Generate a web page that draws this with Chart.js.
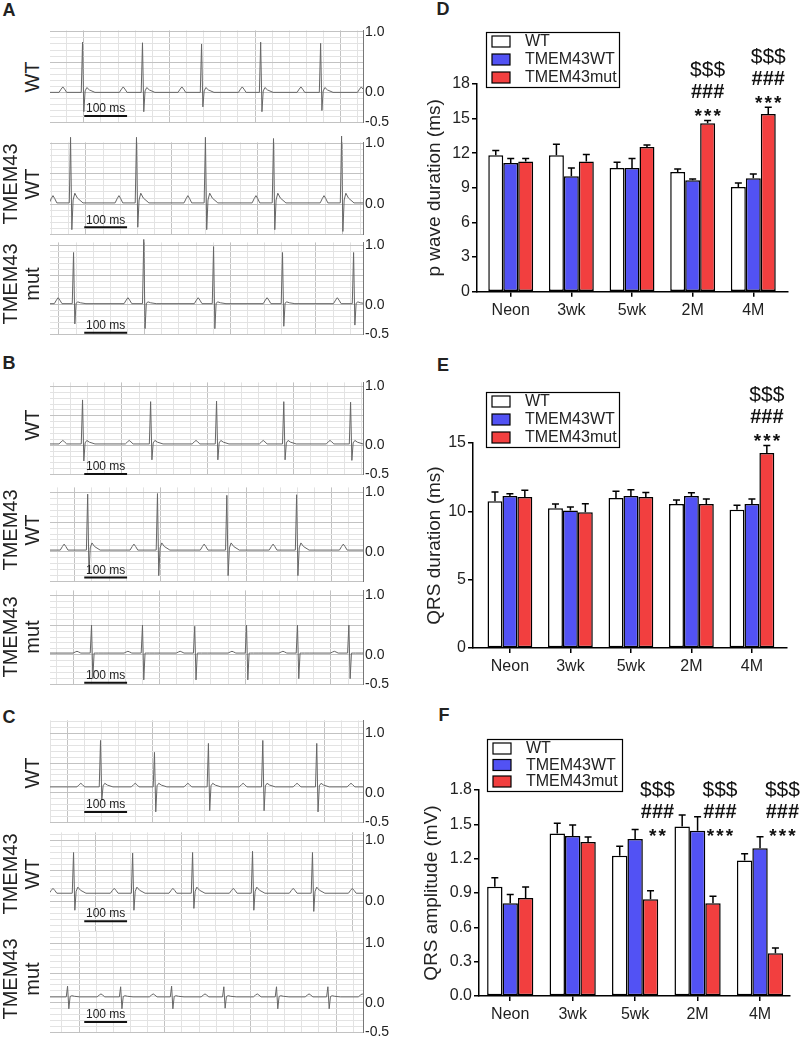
<!DOCTYPE html>
<html><head><meta charset="utf-8">
<script src="https://cdn.jsdelivr.net/npm/chart.js@4.4.1/dist/chart.umd.min.js"></script>
<style>
body{margin:0;background:#fff;}
#page{position:relative;width:800px;height:1038px;overflow:hidden;background:#fff;font-family:"Liberation Sans",Arial,Helvetica,sans-serif;color:#222;}
#page canvas{position:absolute;}
.rl{position:absolute;white-space:nowrap;font-size:20px;line-height:22px;text-align:center;transform:translate(-50%,-50%) rotate(-90deg);}
.let{position:absolute;font-weight:bold;font-size:18px;line-height:1;transform:translate(-50%,-50%);}
</style></head><body><div id="page"></div>
<script>
// ---------------- DATA: bar charts ----------------
const categories = ['Neon', '3wk', '5wk', '2M', '4M'];
const seriesNames = ['WT', 'TMEM43WT', 'TMEM43mut'];

// D: p wave duration (ms)
const pWaveWT      = [11.83, 11.83, 10.73, 10.38, 9.08];
const pWaveWTsem   = [0.40, 0.95, 0.49, 0.26, 0.35];
const pWaveTWT     = [11.16, 10.00, 10.73, 9.66, 9.83];
const pWaveTWTsem  = [0.38, 0.73, 0.81, 0.11, 0.37];
const pWaveMut     = [11.28, 11.28, 12.55, 14.60, 15.41];
const pWaveMutsem  = [0.26, 0.60, 0.17, 0.23, 0.58];
const pWaveTicks   = [0, 3, 6, 9, 12, 15, 18];
const pWaveStars   = ['', '', '', '***', '***'];
const pWaveHash    = ['', '', '', '###', '###'];
const pWaveDollar  = ['', '', '', '$$$', '$$$'];

// E: QRS duration (ms)
const qrsDurWT     = [10.73, 10.22, 10.98, 10.54, 10.12];
const qrsDurWTsem  = [0.68, 0.32, 0.49, 0.29, 0.32];
const qrsDurTWT    = [11.12, 10.07, 11.12, 11.12, 10.54];
const qrsDurTWTsem = [0.17, 0.25, 0.46, 0.24, 0.37];
const qrsDurMut    = [11.05, 9.93, 11.05, 10.54, 14.27];
const qrsDurMutsem = [0.49, 0.63, 0.32, 0.37, 0.54];
const qrsDurTicks  = [0, 5, 10, 15];
const qrsDurStars  = ['', '', '', '', '***'];
const qrsDurHash   = ['', '', '', '', '###'];
const qrsDurDollar = ['', '', '', '', '$$$'];

// F: QRS amplitude (mV)
const qrsAmpWT     = [0.955, 1.419, 1.226, 1.480, 1.183];
const qrsAmpWTsem  = [0.079, 0.090, 0.082, 0.102, 0.061];
const qrsAmpTWT    = [0.810, 1.398, 1.372, 1.445, 1.290];
const qrsAmpTWTsem = [0.076, 0.096, 0.082, 0.122, 0.102];
const qrsAmpMut    = [0.856, 1.346, 0.845, 0.810, 0.373];
const qrsAmpMutsem = [0.097, 0.043, 0.075, 0.061, 0.046];
const qrsAmpTicks  = [0, 0.3, 0.6, 0.9, 1.2, 1.5, 1.8];
const qrsAmpStars  = ['', '', '**', '***', '***'];
const qrsAmpHash   = ['', '', '###', '###', '###'];
const qrsAmpDollar = ['', '', '$$$', '$$$', '$$$'];

// ---------------- DATA: ECG traces (ms, mV) ----------------
const ecgTimeMax_ms = 731;
const ecgScaleBar_ms = [80, 100];            // start, length
const ecgAxisLabels = ['1.0', '0.0', '-0.5'];

const a1R_ms = [77, 217, 355, 493, 633];
const a1R_mV = [0.83, 0.82, 0.80, 0.83, 0.81];
const a1S_mV = [-0.32, -0.32, -0.24, -0.32, -0.30];
const a1P_ms = [30, 171, 308, 449, 586, 727];

const a2R_ms = [49, 203, 364, 523, 682];
const a2R_mV = [1.10, 1.10, 1.10, 1.08, 1.12];
const a2S_mV = [-0.42, -0.38, -0.42, -0.42, -0.45];
const a2P_ms = [7, 161, 322, 481, 640];

const a3R_ms = [56, 220, 383, 544, 710];
const a3R_mV = [0.88, 1.10, 0.98, 0.88, 0.88];
const a3S_mV = [-0.32, -0.40, -0.40, -0.36, -0.34];
const a3P_ms = [19, 182, 346, 507, 671];

const b1R_ms = [77, 236, 390, 547, 703];
const b1R_mV = [0.77, 0.74, 0.75, 0.74, 0.73];
const b1S_mV = [-0.27, -0.25, -0.25, -0.25, -0.26];
const b1P_ms = [30, 185, 341, 498, 654];

const b2R_ms = [89, 252, 414, 577];
const b2R_mV = [0.97, 0.98, 0.95, 0.96];
const b2S_mV = [-0.37, -0.40, -0.40, -0.40];
const b2P_ms = [33, 196, 360, 521, 685];

const b3R_ms = [98, 217, 339, 460, 579, 699];
const b3R_mV = [0.50, 0.50, 0.48, 0.50, 0.50, 0.50];
const b3S_mV = [-0.40, -0.42, -0.42, -0.42, -0.40, -0.40];
const b3P_ms = [63, 182, 304, 425, 544, 664];

const c1R_ms = [119, 245, 371, 498, 624];
const c1R_mV = [0.88, 0.68, 0.83, 0.88, 0.83];
const c1S_mV = [-0.12, -0.32, -0.30, -0.30, -0.32];
const c1P_ms = [72, 199, 322, 451, 577, 703];

const c2R_ms = [56, 194, 334, 474, 614];
const c2R_mV = [0.80, 0.79, 0.80, 0.82, 0.80];
const c2S_mV = [-0.15, -0.15, -0.12, -0.15, -0.17];
const c2P_ms = [7, 150, 287, 428, 568, 706];

const c3R_ms = [42, 166, 285, 407, 530, 650];
const c3R_mV = [0.28, 0.27, 0.28, 0.27, 0.27, 0.27];
const c3S_mV = [-0.10, -0.10, -0.10, -0.09, -0.10, -0.10];
const c3P_ms = [119, 241, 362, 484, 605, 729];

// per trace (A1..C3): isoelectric level, P height, T height
const ecgBaseline_mV = [0.00, 0.02, 0.02, 0.02, 0.03, 0.03, 0.10, 0.13, 0.10];
const ecgPwave_mV    = [0.09, 0.12, 0.10, 0.06, 0.10, 0.03, 0.06, 0.08, 0.05];
const ecgTwave_mV    = [0.08, 0.16, 0.03, 0.06, 0.12, 0.00, 0.06, 0.10, 0.02];
const ecgRowNames    = ['WT', 'TMEM43\nWT', 'TMEM43\nmut'];

// ---------------- rendering ----------------
Chart.defaults.font.family = '"Liberation Sans", Arial, Helvetica, sans-serif';
Chart.defaults.color = '#222';
const page = document.getElementById('page');

function addCanvas(left, top, w, h) {
  const c = document.createElement('canvas');
  c.width = w; c.height = h;
  c.style.left = left + 'px'; c.style.top = top + 'px';
  c.style.width = w + 'px'; c.style.height = h + 'px';
  page.appendChild(c);
  return c;
}
function addDiv(cls, text, x, y) {
  const d = document.createElement('div');
  d.className = cls; d.style.left = x + 'px'; d.style.top = y + 'px';
  d.innerHTML = text.split('\n').join('<br>');
  page.appendChild(d);
}

// panel letters
[['A', 9, 10], ['B', 9, 363], ['C', 9, 717], ['D', 443, 9], ['E', 443, 365], ['F', 444, 715]]
  .forEach(l => addDiv('let', l[0], l[1], l[2]));

// beat template (ms offsets) used to draw each P wave and QRS-T complex
function buildTrace(rT, rA, sA, pT, base, pA, tA) {
  const ev = [];
  rT.forEach((t, i) => ev.push({ t, kind: 'R', i }));
  pT.forEach(t => ev.push({ t, kind: 'P' }));
  ev.sort((a, b) => a.t - b.t);
  const pts = [{ x: 0, y: base }];
  ev.forEach(e => {
    if (e.kind === 'P') {
      pts.push({ x: e.t - 9, y: base }, { x: e.t - 4, y: base + 0.6 * pA }, { x: e.t, y: base + pA },
               { x: e.t + 4, y: base + 0.6 * pA }, { x: e.t + 9, y: base });
    } else {
      pts.push({ x: e.t - 4, y: base }, { x: e.t - 1, y: rA[e.i] }, { x: e.t + 2, y: sA[e.i] },
               { x: e.t + 5, y: base + 0.3 * tA }, { x: e.t + 9, y: base + tA },
               { x: e.t + 15, y: base + 0.5 * tA }, { x: e.t + 28, y: base });
    }
  });
  pts.push({ x: ecgTimeMax_ms, y: base });
  return pts;
}

const ecgTraces = [
  [a1R_ms, a1R_mV, a1S_mV, a1P_ms], [a2R_ms, a2R_mV, a2S_mV, a2P_ms], [a3R_ms, a3R_mV, a3S_mV, a3P_ms],
  [b1R_ms, b1R_mV, b1S_mV, b1P_ms], [b2R_ms, b2R_mV, b2S_mV, b2P_ms], [b3R_ms, b3R_mV, b3S_mV, b3P_ms],
  [c1R_ms, c1R_mV, c1S_mV, c1P_ms], [c2R_ms, c2R_mV, c2S_mV, c2P_ms], [c3R_ms, c3R_mV, c3S_mV, c3P_ms]
];

// layout of the ECG strips (pixel geometry only)
const ecgLayout = [
  { y0: 92.5, k: 61, top: 30,  neg: true,  grid: 79,  bar: -0.39 },
  { y0: 204,  k: 61, top: 142, neg: false, grid: 84,  bar: -0.38 },
  { y0: 305,  k: 60, top: 242, neg: true,  grid: 21,  bar: -0.47 },
  { y0: 445,  k: 59, top: 382, neg: true,  grid: 168, bar: -0.49 },
  { y0: 552,  k: 60, top: 487, neg: false, grid: 58,  bar: -0.43 },
  { y0: 655,  k: 60, top: 590, neg: true,  grid: 56,  bar: -0.47 },
  { y0: 793,  k: 60, top: 720, neg: true,  grid: 40,  bar: -0.32 },
  { y0: 901,  k: 61, top: 832, neg: false, grid: 107, bar: -0.33 },
  { y0: 1003, k: 60, top: 930, neg: true,  grid: 68,  bar: -0.32 }
];

const ecgDecor = {
  id: 'ecgDecor',
  afterDatasetsDraw(chart, args, o) {
    const ctx = chart.ctx, xs = chart.scales.x, ys = chart.scales.y;
    const x0 = xs.getPixelForValue(ecgScaleBar_ms[0]);
    const x1 = xs.getPixelForValue(ecgScaleBar_ms[0] + ecgScaleBar_ms[1]);
    const yy = ys.getPixelForValue(o.bar);
    ctx.save();
    ctx.strokeStyle = '#111'; ctx.lineWidth = 2;
    ctx.beginPath(); ctx.moveTo(x0, yy); ctx.lineTo(x1, yy); ctx.stroke();
    ctx.fillStyle = '#222'; ctx.font = '12px "Liberation Sans", Arial, sans-serif';
    ctx.textAlign = 'center'; ctx.textBaseline = 'bottom';
    ctx.fillText(ecgScaleBar_ms[1] + ' ms', (x0 + x1) / 2, yy - 1);
    ctx.restore();
  }
};

ecgLayout.forEach((L, idx) => {
  const tr = ecgTraces[idx];
  const maxV = (L.y0 - L.top) / L.k;
  const areaH = L.y0 + 0.5 * L.k - L.top;
  const cv = addCanvas(50, L.top - 10, 350, Math.round(areaH + 20));
  const data = buildTrace(tr[0], tr[1], tr[2], tr[3], ecgBaseline_mV[idx], ecgPwave_mV[idx], ecgTwave_mV[idx]);
  new Chart(cv, {
    type: 'line',
    data: { datasets: [{ data, borderColor: '#666666', borderWidth: 1, pointRadius: 0, tension: 0,
      fill: false, clip: { left: 0, right: 0, top: 10, bottom: 10 } }] },
    options: {
      responsive: false, animation: false, events: [], parsing: false,
      layout: { padding: { top: 10, bottom: Math.round(areaH + 20) - 10 - areaH, left: 0, right: 0 } },
      plugins: { legend: { display: false }, tooltip: { enabled: false }, ecgDecor: { bar: L.bar } },
      scales: {
        x: {
          type: 'linear', min: 0, max: ecgTimeMax_ms,
          afterBuildTicks: s => {
            const t = [];
            for (let v = L.grid - 200; v <= ecgTimeMax_ms; v += 40) if (v >= 0) t.push({ value: v });
            s.ticks = t;
          },
          afterFit: s => { s.height = 0; },
          ticks: { display: false },
          grid: { drawTicks: false, lineWidth: 1,
            color: c => { const k = Math.round((c.tick.value - L.grid) / 40); return (((k % 5) + 5) % 5 === 0) ? '#c2c2c2' : '#e3e3e3'; } },
          border: { display: false }
        },
        y: {
          type: 'linear', position: 'right', min: -0.5, max: maxV,
          afterBuildTicks: s => {
            const t = [];
            for (let v = -5; v <= Math.floor(maxV * 10 + 1e-6); v++) t.push({ value: v / 10 });
            s.ticks = t;
          },
          afterFit: s => { s.width = 37; },
          ticks: { autoSkip: false, padding: 2, font: { size: 14 }, color: '#222',
            callback: v => { const r = Math.round(v * 10);
              if (r === 10) return ecgAxisLabels[0];
              if (r === 0) return ecgAxisLabels[1];
              if (r === -5 && L.neg) return ecgAxisLabels[2];
              return ''; } },
          grid: { drawTicks: false, lineWidth: 1,
            color: c => (Math.round(c.tick.value * 10) % 5 === 0) ? '#c2c2c2' : '#e3e3e3' },
          border: { display: true, color: '#777', width: 1 }
        }
      }
    },
    plugins: [ecgDecor]
  });
});

// row labels of the ECG strips
const rowCentres = [77, 184, 284, 425, 530, 637, 773, 874, 979];
rowCentres.forEach((y, i) => {
  const name = ecgRowNames[i % 3];
  addDiv('rl', name, name.indexOf('\n') >= 0 ? 21 : 32, y);
});

// ---------------- bar charts ----------------
const barColors = ['#ffffff', '#5252f4', '#f23f3f'];

const barDecor = {
  id: 'barDecor',
  afterDatasetsDraw(chart) {
    const ctx = chart.ctx, ys = chart.scales.y;
    ctx.save();
    ctx.strokeStyle = '#000'; ctx.lineWidth = 1.5;
    chart.data.datasets.forEach((ds, di) => {
      chart.getDatasetMeta(di).data.forEach((bar, i) => {
        const top = ys.getPixelForValue(ds.data[i].y + ds.sem[i]);
        ctx.beginPath();
        ctx.moveTo(bar.x, bar.y); ctx.lineTo(bar.x, top);
        ctx.moveTo(bar.x - 3.5, top); ctx.lineTo(bar.x + 3.5, top);
        ctx.stroke();
      });
    });
    ctx.restore();
  },
  afterDraw(chart, args, o) {
    const ctx = chart.ctx, ys = chart.scales.y;
    const fam = '"Liberation Sans", Arial, sans-serif';
    // legend
    const L = o.legend, gap = (L.h - 19) / 2;
    ctx.save();
    ctx.strokeStyle = '#000'; ctx.lineWidth = 1.2;
    ctx.fillStyle = '#fff'; ctx.fillRect(L.x, L.y, L.w, L.h);
    ctx.strokeRect(L.x + 0.5, L.y + 0.5, L.w, L.h);
    chart.data.datasets.forEach((ds, i) => {
      const cy = L.y + 9.5 + i * gap;
      ctx.fillStyle = ds.backgroundColor;
      ctx.fillRect(L.x + 6, cy - 5.5, 18, 11);
      ctx.lineWidth = 1.2; ctx.strokeRect(L.x + 6, cy - 5.5, 18, 11);
      ctx.fillStyle = '#222'; ctx.font = '16px ' + fam;
      ctx.textAlign = 'left'; ctx.textBaseline = 'middle';
      ctx.fillText(ds.label, L.x + 39, cy + 0.5);
    });
    // significance marks above the TMEM43mut bars
    const mut = chart.data.datasets[2], meta = chart.getDatasetMeta(2);
    o.stars.forEach((s, i) => {
      if (!s) return;
      const x = meta.data[i].x + o.dx;
      const yS = o.level != null ? ys.getPixelForValue(o.level)
                                 : ys.getPixelForValue(mut.data[i].y + mut.sem[i]) - 8;
      ctx.fillStyle = '#111'; ctx.textAlign = 'center';
      ctx.font = 'bold 19px ' + fam; ctx.textBaseline = 'alphabetic';
      const m = ctx.measureText('*');
      const centre = (m.actualBoundingBoxAscent - m.actualBoundingBoxDescent) / 2;
      const n = s.length;
      for (let j = 0; j < n; j++) ctx.fillText('*', x + (j - (n - 1) / 2) * 9.5, yS + centre);
      ctx.textBaseline = 'middle';
      ctx.font = 'bold 20px ' + fam;
      ctx.fillText(o.hash[i], x, yS - 20);
      ctx.font = '21px ' + fam;
      ctx.fillText(o.dollar[i], x, yS - 42);
    });
    ctx.restore();
  }
};

function barChart(cfg) {
  const cv = addCanvas(400, cfg.top, 400, cfg.height);
  const mk = (label, vals, sem, color) => ({
    label, data: vals.map((v, i) => ({ x: i, y: v })), sem,
    backgroundColor: color, borderColor: '#000', borderWidth: 1.5, borderSkipped: false,
    categoryPercentage: 0.74, barPercentage: 1.0
  });
  new Chart(cv, {
    type: 'bar',
    data: { datasets: [
      mk(seriesNames[0], cfg.wt, cfg.wtSem, barColors[0]),
      mk(seriesNames[1], cfg.twt, cfg.twtSem, barColors[1]),
      mk(seriesNames[2], cfg.mut, cfg.mutSem, barColors[2])
    ] },
    options: {
      responsive: false, animation: false, events: [],
      layout: { padding: { left: 20, right: cfg.padR, top: cfg.areaTop, bottom: cfg.padB } },
      plugins: { legend: { display: false }, tooltip: { enabled: false },
        barDecor: { legend: cfg.legend, stars: cfg.stars, hash: cfg.hash, dollar: cfg.dollar, dx: cfg.dx, level: cfg.level } },
      scales: {
        x: {
          type: 'linear', min: cfg.xmin, max: cfg.xmax, offset: false,
          afterBuildTicks: s => { s.ticks = categories.map((c, i) => ({ value: i })); },
          afterFit: s => { s.height = 30; },
          ticks: { autoSkip: false, maxRotation: 0, padding: 4, font: { size: 16 }, color: '#222',
            callback: v => categories[v] },
          grid: { offset: false, drawOnChartArea: false, drawTicks: true, tickLength: 5, color: '#000', lineWidth: 1.5 },
          border: { display: true, color: '#000', width: 1.5 }
        },
        y: {
          type: 'linear', min: cfg.ticks[0], max: cfg.ticks[cfg.ticks.length - 1],
          afterBuildTicks: s => { s.ticks = cfg.ticks.map(v => ({ value: v })); },
          afterFit: s => { s.width = cfg.axisLeft - 20; },
          ticks: { padding: 2, font: { size: 16 }, color: '#222', callback: cfg.fmt },
          grid: { drawOnChartArea: false, drawTicks: true, tickLength: 5, color: '#000', lineWidth: 1.5 },
          border: { display: true, color: '#000', width: 1.5 },
          title: { display: true, text: cfg.title, font: { size: 19 }, color: '#222', padding: { top: cfg.titlePad, bottom: 0 } }
        }
      }
    },
    plugins: [barDecor]
  });
}

barChart({ top: 0, height: 335, axisLeft: 77, padR: 12, areaTop: 84, padB: 13.3, xmin: -0.556, xmax: 4.572,
  wt: pWaveWT, wtSem: pWaveWTsem, twt: pWaveTWT, twtSem: pWaveTWTsem, mut: pWaveMut, mutSem: pWaveMutsem,
  ticks: pWaveTicks, fmt: v => String(v), title: 'p wave duration (ms)', titlePad: 3.6,
  legend: { x: 86, y: 32, w: 133, h: 55 }, stars: pWaveStars, hash: pWaveHash, dollar: pWaveDollar, dx: 0, level: null });

barChart({ top: 335, height: 345, axisLeft: 73, padR: 13, areaTop: 108, padB: 2, xmin: -0.61, xmax: 4.58,
  wt: qrsDurWT, wtSem: qrsDurWTsem, twt: qrsDurTWT, twtSem: qrsDurTWTsem, mut: qrsDurMut, mutSem: qrsDurMutsem,
  ticks: qrsDurTicks, fmt: v => String(v), title: 'QRS duration (ms)', titlePad: 3.6,
  legend: { x: 86, y: 57, w: 133, h: 55 }, stars: qrsDurStars, hash: qrsDurHash, dollar: qrsDurDollar, dx: 0, level: null });

barChart({ top: 680, height: 358, axisLeft: 79, padR: 10, areaTop: 110, padB: 12, xmin: -0.5, xmax: 4.48,
  wt: qrsAmpWT, wtSem: qrsAmpWTsem, twt: qrsAmpTWT, twtSem: qrsAmpTWTsem, mut: qrsAmpMut, mutSem: qrsAmpMutsem,
  ticks: qrsAmpTicks, fmt: v => Number(v).toFixed(1), title: 'QRS amplitude (mV)', titlePad: 0.6,
  legend: { x: 87, y: 59, w: 135, h: 52 }, stars: qrsAmpStars, hash: qrsAmpHash, dollar: qrsAmpDollar, dx: 7, level: 1.43 });
</script>
</body></html>
